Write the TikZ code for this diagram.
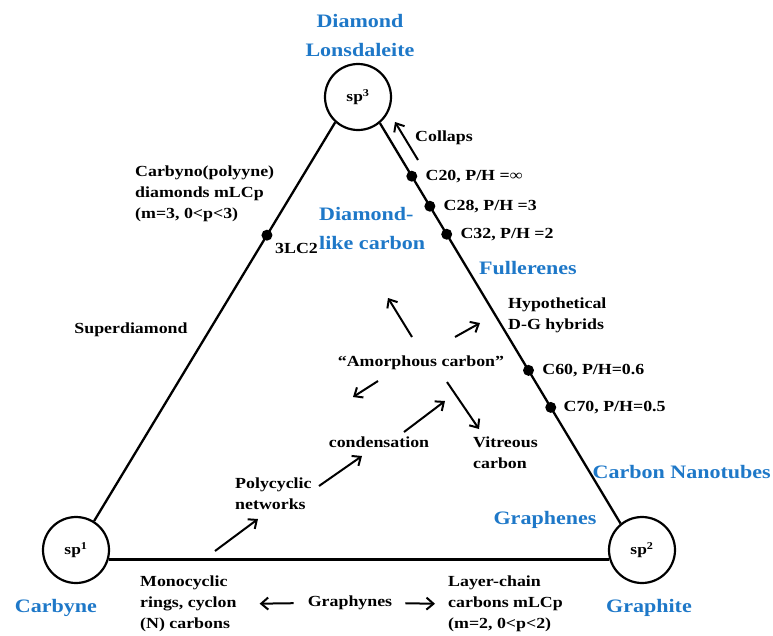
\documentclass[tikz,border=0pt]{standalone}
\usepackage{fontspec}
\setmainfont{Liberation Serif}[FakeStretch=1.16]
\usetikzlibrary{arrows.meta,positioning,calc}
\definecolor{phaseblue}{HTML}{1E78C8}
\tikzset{hyb/.style={circle,draw,line width=2.2pt,minimum size=66pt,inner sep=0pt,font=\bfseries\fontsize{15}{18}\selectfont},edge/.style={line width=2.3pt},dot/.style={circle,fill,inner sep=0pt,minimum size=11pt},lbl/.style={inner sep=0pt,align=left,font=\bfseries\fontsize{15.4}{21}\selectfont},phase/.style={inner sep=0pt,align=center,text=phaseblue,font=\bfseries\fontsize{19}{28.5}\selectfont},arr/.style={-{Straight Barb[length=7pt,width=12pt]},line width=2pt}}

\begin{document}
\begin{tikzpicture}[x=1pt,y=-1pt]
\useasboundingbox (0,0) rectangle (773,635);
% hybridisation corners
\node[hyb] (sp3) at (358,97) {sp\textsuperscript{3}};
\node[hyb] (sp1) at (76,550) {sp\textsuperscript{1}};
\node[hyb] (sp2) at (642,550) {sp\textsuperscript{2}};
\draw[edge] (sp1.58) -- (sp3.228) node[dot,pos=.717] (lc) {};
\draw[edge] (sp3.-50) -- (sp2.129)
  node[dot,pos=.1325] (c20) {} node[dot,pos=.2075] (c28) {} node[dot,pos=.2775] (c32) {}
  node[dot,pos=.6175] (c60) {} node[dot,pos=.71] (c70) {};
\draw[edge] (sp1.-16) -- (sp2.196);
% phase names
\node[phase] (diam) at (360,35.5) {Diamond\\Lonsdaleite};
\node[phase] (carbyne) at (56,608) {Carbyne};
\node[phase] (graphite) at (649,608) {Graphite};
\node[phase,anchor=west,align=left] (dlc) at (319,228.5) {Diamond-\\like carbon};
\node[phase] (fuller) at (528,268) {Fullerenes};
\node[phase,anchor=east] (cnt) at (771,472) {Carbon Nanotubes};
\node[phase] (graphene) at (545,520) {Graphenes};
% labels on the edges
\node[lbl,right=7pt of c20] (l20) {C20, P/H =∞};
\node[lbl,right=7pt of c28] (l28) {C28, P/H =3};
\node[lbl,right=7pt of c32] (l32) {C32, P/H =2};
\node[lbl,right=7pt of c60] (l60) {C60, P/H=0.6};
\node[lbl,right=6pt of c70] (l70) {C70, P/H=0.5};
\node[lbl,anchor=west] (l3lc) at (275,248) {3LC2};
\node[lbl,anchor=west] (collaps) at (415,138) {Collaps};
\node[lbl,anchor=west] (carbyno) at (135,193.5) {Carbyno(polyyne)\\diamonds mLCp\\(m=3, 0<p<3)};
\node[lbl] (superd) at (131,330) {Superdiamond};
\node[lbl,anchor=west] (hypo) at (508,315) {Hypothetical\\D-G hybrids};
% inside
\node[lbl] (amor) at (421,363) {“Amorphous carbon”};
\node[lbl] (cond) at (379,442) {condensation};
\node[lbl,anchor=west] (vit) at (473,452.5) {Vitreous\\carbon};
\node[lbl,anchor=west] (poly) at (235,494) {Polycyclic\\networks};
% below the base
\node[lbl,anchor=west] (mono) at (140,604) {Monocyclic\\rings, cyclon\\(N) carbons};
\node[lbl] (graphy) at (350,603) {Graphynes};
\node[lbl,anchor=west] (layer) at (448,604) {Layer-chain\\carbons mLCp\\(m=2, 0<p<2)};
% arrow ends
\coordinate (colA) at (418,160); \coordinate (colB) at (395,122);
\coordinate (ulA) at (412,337); \coordinate (ulB) at (388,298);
\coordinate (urA) at (455,337); \coordinate (urB) at (480,323);
\coordinate (dlA) at (378,381); \coordinate (dlB) at (353,397);
\coordinate (vitA) at (447,382); \coordinate (vitB) at (479,429);
\coordinate (condA) at (404,432); \coordinate (condB) at (445,401);
\coordinate (polyA) at (319,486); \coordinate (polyB) at (362,456);
\coordinate (baseA) at (215,551); \coordinate (baseB) at (258,519);
\draw[arr] (colA) -- (colB);
\draw[arr] (ulA) -- (ulB);
\draw[arr] (urA) -- (urB);
\draw[arr] (dlA) -- (dlB);
\draw[arr] (vitA) -- (vitB);
\draw[arr] (condA) -- (condB);
\draw[arr] (polyA) -- (polyB);
\draw[arr] (baseA) -- (baseB);
\draw[arr,shorten <=14pt,shorten >=23pt] (graphy.west) -- (mono.east);
\draw[arr,shorten <=13pt,shorten >=13pt] (graphy.east) -- (layer.west);
\end{tikzpicture}
\end{document}
